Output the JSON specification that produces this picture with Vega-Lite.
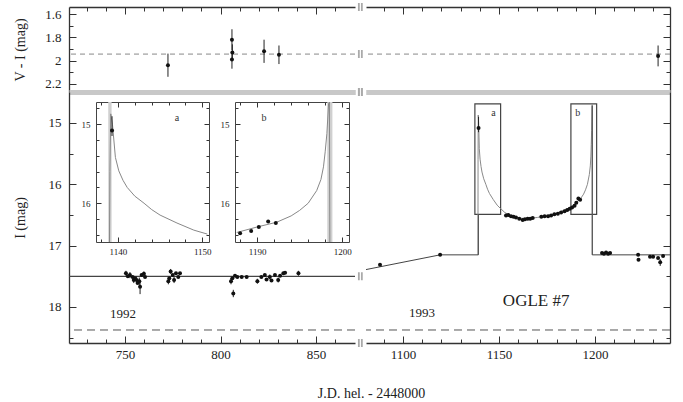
{
  "$schema": "https://vega.github.io/schema/vega-lite/v6.json",
  "padding": {"left": 13, "top": 3, "right": 5, "bottom": 0},
  "bounds": "flush",
  "align": "each",
  "columns": 2,
  "spacing": {"row": 0, "column": 11},
  "title": {"text": "J.D. hel. - 2448000", "orient": "bottom", "anchor": "middle", "frame": "bounds", "dx": 29, "offset": 23, "fontSize": 14, "fontWeight": "normal", "font": "Liberation Serif, Times New Roman, DejaVu Serif, serif", "color": "#222"},
  "resolve": {"scale": {"x": "independent", "y": "independent"}},
  "datasets": {
    "refs": [{"row": "T", "v": 1.944}, {"row": "B", "v": 18.375}, {"row": "B92", "v": 17.5}],
    "breaks": [
      {"row": "T", "t": 873.2, "v": 1.538}, {"row": "T", "t": 873.2, "v": 1.944}, {"row": "T", "t": 873.2, "v": 2.271},
      {"row": "B", "t": 873.2, "v": 14.495}, {"row": "B", "t": 873.2, "v": 17.5}, {"row": "B", "t": 873.2, "v": 18.587}
    ],
    "vi92": [
      {"t": 772.5, "v": 2.04, "lo": 1.94, "hi": 2.14},
      {"t": 806.0, "v": 1.82, "lo": 1.73, "hi": 1.91},
      {"t": 806.2, "v": 1.93, "lo": 1.86, "hi": 2.0},
      {"t": 806.0, "v": 1.99, "lo": 1.92, "hi": 2.07},
      {"t": 822.8, "v": 1.92, "lo": 1.82, "hi": 2.02},
      {"t": 830.6, "v": 1.95, "lo": 1.87, "hi": 2.03}
    ],
    "vi93": [{"t": 1232.8, "v": 1.96, "lo": 1.87, "hi": 2.05}],
    "i92": [
      {"t": 750.5, "I": 17.45, "lo": 17.41, "hi": 17.49},
      {"t": 751.5, "I": 17.50},
      {"t": 752.6, "I": 17.48, "lo": 17.43, "hi": 17.53},
      {"t": 754.0, "I": 17.51},
      {"t": 754.6, "I": 17.56, "lo": 17.51, "hi": 17.61},
      {"t": 755.2, "I": 17.53},
      {"t": 756.1, "I": 17.56, "lo": 17.5, "hi": 17.62},
      {"t": 756.6, "I": 17.61},
      {"t": 757.5, "I": 17.58, "lo": 17.52, "hi": 17.64},
      {"t": 757.9, "I": 17.67, "lo": 17.57, "hi": 17.79},
      {"t": 758.7, "I": 17.48},
      {"t": 759.9, "I": 17.46, "lo": 17.42, "hi": 17.5},
      {"t": 760.5, "I": 17.51},
      {"t": 772.7, "I": 17.58, "lo": 17.53, "hi": 17.63},
      {"t": 773.2, "I": 17.53},
      {"t": 773.9, "I": 17.42, "lo": 17.38, "hi": 17.46},
      {"t": 775.0, "I": 17.48},
      {"t": 775.7, "I": 17.56, "lo": 17.51, "hi": 17.61},
      {"t": 776.7, "I": 17.45},
      {"t": 777.9, "I": 17.51},
      {"t": 778.8, "I": 17.45},
      {"t": 805.5, "I": 17.58, "lo": 17.53, "hi": 17.63},
      {"t": 806.2, "I": 17.53},
      {"t": 806.7, "I": 17.78, "lo": 17.72, "hi": 17.84},
      {"t": 807.6, "I": 17.49},
      {"t": 808.8, "I": 17.51},
      {"t": 811.1, "I": 17.51},
      {"t": 813.7, "I": 17.51},
      {"t": 819.3, "I": 17.58, "lo": 17.54, "hi": 17.62},
      {"t": 821.4, "I": 17.51},
      {"t": 823.2, "I": 17.48},
      {"t": 824.1, "I": 17.55},
      {"t": 825.8, "I": 17.51, "lo": 17.47, "hi": 17.55},
      {"t": 826.7, "I": 17.57},
      {"t": 828.5, "I": 17.48},
      {"t": 830.2, "I": 17.56, "lo": 17.52, "hi": 17.6},
      {"t": 831.2, "I": 17.49},
      {"t": 832.9, "I": 17.45},
      {"t": 833.8, "I": 17.44},
      {"t": 840.8, "I": 17.45, "lo": 17.41, "hi": 17.49}
    ],
    "i93": [
      {"t": 1088.0, "I": 17.31},
      {"t": 1119.3, "I": 17.15},
      {"t": 1139.3, "I": 15.08, "lo": 14.9, "hi": 15.15},
      {"t": 1153.6, "I": 16.51},
      {"t": 1154.8, "I": 16.50},
      {"t": 1156.2, "I": 16.52},
      {"t": 1157.5, "I": 16.53},
      {"t": 1158.8, "I": 16.54},
      {"t": 1160.5, "I": 16.56},
      {"t": 1162.3, "I": 16.58},
      {"t": 1163.5, "I": 16.57},
      {"t": 1164.9, "I": 16.56},
      {"t": 1166.2, "I": 16.56},
      {"t": 1167.5, "I": 16.55},
      {"t": 1172.0, "I": 16.53},
      {"t": 1173.7, "I": 16.52},
      {"t": 1175.5, "I": 16.52},
      {"t": 1177.1, "I": 16.51},
      {"t": 1178.8, "I": 16.49},
      {"t": 1180.6, "I": 16.48},
      {"t": 1182.3, "I": 16.46},
      {"t": 1184.1, "I": 16.44},
      {"t": 1185.5, "I": 16.42},
      {"t": 1186.8, "I": 16.40},
      {"t": 1188.0, "I": 16.38},
      {"t": 1189.3, "I": 16.35},
      {"t": 1190.2, "I": 16.30},
      {"t": 1191.3, "I": 16.23},
      {"t": 1192.2, "I": 16.25},
      {"t": 1203.6, "I": 17.12},
      {"t": 1204.6, "I": 17.13},
      {"t": 1205.7, "I": 17.11},
      {"t": 1206.8, "I": 17.13},
      {"t": 1207.8, "I": 17.12},
      {"t": 1222.4, "I": 17.15},
      {"t": 1222.6, "I": 17.23},
      {"t": 1228.6, "I": 17.18},
      {"t": 1230.2, "I": 17.18},
      {"t": 1232.8, "I": 17.20},
      {"t": 1233.9, "I": 17.27, "lo": 17.22, "hi": 17.33},
      {"t": 1235.4, "I": 17.17}
    ],
    "model": [
      {"k": 1, "t": 1139.00, "I": 17.15}, {"k": 2, "t": 1139.05, "I": 15.60}, {"k": 3, "t": 1139.15, "I": 14.87},
      {"k": 4, "t": 1139.35, "I": 15.00}, {"k": 5, "t": 1139.70, "I": 15.42}, {"k": 6, "t": 1140.10, "I": 15.59},
      {"k": 7, "t": 1140.60, "I": 15.71}, {"k": 8, "t": 1141.10, "I": 15.80}, {"k": 9, "t": 1142.00, "I": 15.91},
      {"k": 10, "t": 1143.10, "I": 16.00}, {"k": 11, "t": 1144.00, "I": 16.08}, {"k": 12, "t": 1145.00, "I": 16.15},
      {"k": 13, "t": 1147.00, "I": 16.25}, {"k": 14, "t": 1149.00, "I": 16.34}, {"k": 15, "t": 1150.60, "I": 16.39},
      {"k": 16, "t": 1153.00, "I": 16.46}, {"k": 17, "t": 1156.00, "I": 16.51}, {"k": 18, "t": 1160.00, "I": 16.55},
      {"k": 19, "t": 1165.00, "I": 16.56}, {"k": 20, "t": 1170.00, "I": 16.54}, {"k": 21, "t": 1175.00, "I": 16.51},
      {"k": 22, "t": 1180.00, "I": 16.47}, {"k": 23, "t": 1184.00, "I": 16.42}, {"k": 24, "t": 1187.60, "I": 16.37},
      {"k": 25, "t": 1190.00, "I": 16.30}, {"k": 26, "t": 1192.30, "I": 16.24}, {"k": 27, "t": 1194.00, "I": 16.16},
      {"k": 28, "t": 1195.00, "I": 16.09}, {"k": 29, "t": 1196.00, "I": 16.00}, {"k": 30, "t": 1197.00, "I": 15.84},
      {"k": 31, "t": 1197.50, "I": 15.70}, {"k": 32, "t": 1197.80, "I": 15.54}, {"k": 33, "t": 1198.00, "I": 15.35},
      {"k": 34, "t": 1198.20, "I": 15.12}, {"k": 35, "t": 1198.40, "I": 14.74}, {"k": 36, "t": 1198.50, "I": 14.70},
      {"k": 37, "t": 1198.55, "I": 17.15}
    ],
    "base": [
      {"seg": "pre", "k": 1, "t": 1080.7, "I": 17.39}, {"seg": "pre", "k": 2, "t": 1119.3, "I": 17.15},
      {"seg": "pre", "k": 3, "t": 1139.2, "I": 17.15}, {"seg": "pre", "k": 4, "t": 1139.2, "I": 16.49},
      {"seg": "post", "k": 5, "t": 1198.5, "I": 14.72}, {"seg": "post", "k": 6, "t": 1198.5, "I": 17.15},
      {"seg": "post", "k": 7, "t": 1239.0, "I": 17.15}
    ],
    "boxes": [
      {"b": "a", "t1": 1137.4, "t2": 1150.8, "I1": 14.69, "I2": 16.49},
      {"b": "b", "t1": 1187.4, "t2": 1200.8, "I1": 14.69, "I2": 16.49}
    ],
    "bands": [
      {"p": "A", "t1": 1138.85, "t2": 1139.25, "I1": 14.72, "I2": 16.49},
      {"p": "B", "t1": 1198.25, "t2": 1198.85, "I1": 14.72, "I2": 16.49}
    ],
    "labels": [
      {"p": "IL", "k": "year", "t": 749.0, "I": 18.11, "text": "1992"},
      {"p": "IR", "k": "year", "t": 1109.9, "I": 18.1, "text": "1993"},
      {"p": "IR", "k": "name", "t": 1169.3, "I": 17.9, "text": "OGLE #7"},
      {"p": "IR", "k": "box", "t": 1147.1, "I": 14.84, "text": "a"},
      {"p": "IR", "k": "box", "t": 1190.9, "I": 14.84, "text": "b"},
      {"p": "A", "k": "box", "t": 1147.0, "I": 14.92, "text": "a"},
      {"p": "B", "k": "box", "t": 1190.8, "I": 14.92, "text": "b"}
    ]
  },
  "concat": [
    {
      "width": 286, "height": 85,
      "layer": [
        {
          "data": {"name": "refs"}, "transform": [{"filter": "datum.row === 'T'"}],
          "mark": {"type": "rule", "color": "#888", "strokeDash": [5, 4], "strokeWidth": 1},
          "encoding": {
            "y": {"field": "v", "type": "quantitative", "scale": {"domain": [1.538, 2.271], "reverse": true, "nice": false, "zero": false},
              "axis": {"orient": "left", "values": [1.6, 1.7, 1.8, 1.9, 2.0, 2.1, 2.2],
                "tickSize": {"condition": {"test": "round(datum.value*10) % 2 === 0", "value": -7}, "value": -4},
                "labelExpr": "round(datum.value*10) % 2 === 0 ? format(datum.value, '.1~f') : ''",
                "labelPadding": 15, "domainWidth": 1.3,
                "title": "V - I (mag)", "titleX": -49, "titleY": 42.5, "titleAngle": 270, "titleBaseline": "middle", "titleAlign": "center"}}
          }
        },
        {
          "data": {"name": "vi92"},
          "mark": {"type": "rule", "color": "#222", "strokeWidth": 1},
          "encoding": {
            "x": {"field": "t", "type": "quantitative", "scale": {"domain": [720.7, 870.4], "nice": false, "zero": false},
              "axis": {"orient": "top", "values": [730, 740, 750, 760, 770, 780, 790, 800, 810, 820, 830, 840, 850, 860], "labels": false,
                "tickSize": {"condition": {"test": "datum.value % 50 === 0", "value": -7}, "value": -4}, "domainWidth": 1.3, "title": null}},
            "y": {"field": "lo", "type": "quantitative", "axis": null},
            "y2": {"field": "hi"}
          }
        },
        {
          "data": {"name": "vi92"},
          "mark": {"type": "point", "filled": true, "color": "#111", "size": 16, "opacity": 1},
          "encoding": {
            "x": {"field": "t", "type": "quantitative", "axis": {"orient": "bottom", "ticks": false, "labels": false, "domainColor": "#c8c8c8", "domainWidth": 5, "title": null}},
            "y": {"field": "v", "type": "quantitative", "axis": null}
          }
        },
        {
          "data": {"name": "breaks"}, "transform": [{"filter": "datum.row === 'T'"}],
          "mark": {"type": "point", "shape": "M-0.6,-1H-0.15V1H-0.6Z M0.15,-1H0.6V1H0.15Z", "filled": true, "color": "#aaa", "size": 64, "opacity": 1},
          "encoding": {
            "x": {"field": "t", "type": "quantitative", "axis": null},
            "y": {"field": "v", "type": "quantitative", "axis": null}
          }
        }
      ],
      "resolve": {"axis": {"x": "independent", "y": "independent"}}
    },
    {
      "width": 304, "height": 85,
      "layer": [
        {
          "data": {"name": "refs"}, "transform": [{"filter": "datum.row === 'T'"}],
          "mark": {"type": "rule", "color": "#888", "strokeDash": [5, 4], "strokeWidth": 1},
          "encoding": {
            "y": {"field": "v", "type": "quantitative", "scale": {"domain": [1.538, 2.271], "reverse": true, "nice": false, "zero": false},
              "axis": {"orient": "right", "values": [1.6, 1.7, 1.8, 1.9, 2.0, 2.1, 2.2], "labels": false,
                "tickSize": {"condition": {"test": "round(datum.value*10) % 2 === 0", "value": -7}, "value": -4},
                "domainWidth": 1.3, "title": null}}
          }
        },
        {
          "data": {"name": "vi93"},
          "mark": {"type": "rule", "color": "#222", "strokeWidth": 1},
          "encoding": {
            "x": {"field": "t", "type": "quantitative", "scale": {"domain": [1080.7, 1239], "nice": false, "zero": false},
              "axis": {"orient": "top", "values": [1090, 1100, 1110, 1120, 1130, 1140, 1150, 1160, 1170, 1180, 1190, 1200, 1210, 1220, 1230], "labels": false,
                "tickSize": {"condition": {"test": "datum.value % 50 === 0", "value": -7}, "value": -4}, "domainWidth": 1.3, "title": null}},
            "y": {"field": "lo", "type": "quantitative", "axis": null},
            "y2": {"field": "hi"}
          }
        },
        {
          "data": {"name": "vi93"},
          "mark": {"type": "point", "filled": true, "color": "#111", "size": 16, "opacity": 1},
          "encoding": {
            "x": {"field": "t", "type": "quantitative", "axis": {"orient": "bottom", "ticks": false, "labels": false, "domainColor": "#c8c8c8", "domainWidth": 5, "title": null}},
            "y": {"field": "v", "type": "quantitative", "axis": null}
          }
        }
      ],
      "resolve": {"axis": {"x": "independent", "y": "independent"}}
    },
    {
      "width": 286, "height": 251,
      "layer": [
        {
          "layer": [
            {
              "data": {"name": "refs"}, "transform": [{"filter": "datum.row === 'B'"}],
              "mark": {"type": "rule", "color": "#555", "strokeDash": [8, 5], "strokeWidth": 1},
              "encoding": {
                "y": {"field": "v", "type": "quantitative", "scale": {"domain": [14.495, 18.587], "reverse": true, "nice": false, "zero": false},
                  "axis": {"orient": "left", "values": [15, 15.5, 16, 16.5, 17, 17.5, 18, 18.5],
                    "tickSize": {"condition": {"test": "datum.value % 1 === 0", "value": -7}, "value": -4},
                    "labelExpr": "datum.value % 1 === 0 ? format(datum.value, 'd') : ''",
                    "labelPadding": 15, "domainWidth": 1.3,
                    "title": "I (mag)", "titleX": -49, "titleY": 125.5, "titleAngle": 270, "titleBaseline": "middle", "titleAlign": "center"}}
              }
            },
            {
              "data": {"name": "refs"}, "transform": [{"filter": "datum.row === 'B92'"}],
              "mark": {"type": "rule", "color": "#444", "strokeWidth": 1.2},
              "encoding": {"y": {"field": "v", "type": "quantitative", "axis": null}}
            },
            {
              "data": {"name": "i92"}, "transform": [{"filter": "datum.lo != null"}],
              "mark": {"type": "rule", "color": "#222", "strokeWidth": 1},
              "encoding": {
                "x": {"field": "t", "type": "quantitative", "scale": {"domain": [720.7, 870.4], "nice": false, "zero": false},
                  "axis": {"orient": "bottom", "values": [730, 740, 750, 760, 770, 780, 790, 800, 810, 820, 830, 840, 850, 860],
                    "tickSize": {"condition": {"test": "datum.value % 50 === 0", "value": -7}, "value": -4},
                    "labelExpr": "datum.value % 50 === 0 ? format(datum.value, 'd') : ''",
                    "labelPadding": 12, "domainWidth": 1.3, "title": null}},
                "y": {"field": "lo", "type": "quantitative", "axis": null},
                "y2": {"field": "hi"}
              }
            },
            {
              "data": {"name": "i92"},
              "mark": {"type": "point", "filled": true, "color": "#111", "size": 16, "opacity": 1},
              "encoding": {
                "x": {"field": "t", "type": "quantitative", "axis": {"orient": "top", "ticks": false, "labels": false, "domainColor": "#c8c8c8", "domainWidth": 5, "title": null}},
                "y": {"field": "I", "type": "quantitative", "axis": null}
              }
            },
            {
              "data": {"name": "breaks"}, "transform": [{"filter": "datum.row === 'B'"}],
              "mark": {"type": "point", "shape": "M-0.6,-1H-0.15V1H-0.6Z M0.15,-1H0.6V1H0.15Z", "filled": true, "color": "#aaa", "size": 64, "opacity": 1},
              "encoding": {
                "x": {"field": "t", "type": "quantitative", "axis": null},
                "y": {"field": "v", "type": "quantitative", "axis": null}
              }
            },
            {
              "data": {"name": "labels"}, "transform": [{"filter": "datum.p === 'IL'"}],
              "mark": {"type": "text", "fontSize": 13, "color": "#222", "align": "center", "baseline": "middle"},
              "encoding": {
                "x": {"field": "t", "type": "quantitative", "axis": null},
                "y": {"field": "I", "type": "quantitative", "axis": null},
                "text": {"field": "text"}
              }
            }
          ],
          "resolve": {"axis": {"x": "independent", "y": "independent"}}
        },
        {
          "layer": [
            {
              "data": {"name": "bands"}, "transform": [{"filter": "datum.p === 'A'"}],
              "mark": {"type": "rect", "color": "#d0d0d0"},
              "encoding": {
                "x": {"field": "t1", "type": "quantitative", "scale": {"domain": [1137.4, 1150.8], "range": [27, 140], "nice": false, "zero": false},
                  "axis": {"orient": "bottom", "offset": -101, "values": [1138, 1140, 1142, 1144, 1146, 1148, 1150],
                    "tickSize": {"condition": {"test": "datum.value % 10 === 0", "value": -5}, "value": -3},
                    "labelExpr": "datum.value % 10 === 0 ? format(datum.value, 'd') : ''",
                    "labelFontSize": 9, "labelPadding": 10, "domainColor": "#444", "title": null}},
                "x2": {"field": "t2"},
                "y": {"field": "I1", "type": "quantitative", "scale": {"domain": [14.72, 16.49], "range": [10, 150], "nice": false, "zero": false, "clamp": true},
                  "axis": {"orient": "left", "offset": -27, "values": [14.8, 15, 15.2, 15.4, 15.6, 15.8, 16, 16.2, 16.4],
                    "tickSize": {"condition": {"test": "abs(datum.value - round(datum.value)) < 0.01", "value": -5}, "value": -3},
                    "labelExpr": "abs(datum.value - round(datum.value)) < 0.01 ? format(datum.value, 'd') : ''",
                    "labelFontSize": 9, "labelPadding": 11, "domainColor": "#444", "title": null}},
                "y2": {"field": "I2"}
              }
            },
            {
              "data": {"name": "model"}, "transform": [{"filter": "datum.t >= 1137.4 && datum.t <= 1150.8"}],
              "mark": {"type": "line", "color": "#888", "strokeWidth": 1},
              "encoding": {
                "x": {"field": "t", "type": "quantitative",
                  "axis": {"orient": "top", "offset": -10, "values": [1138, 1140, 1142, 1144, 1146, 1148, 1150], "labels": false,
                    "tickSize": {"condition": {"test": "datum.value % 10 === 0", "value": -5}, "value": -3}, "domainColor": "#444", "title": null}},
                "y": {"field": "I", "type": "quantitative",
                  "axis": {"orient": "right", "offset": -146, "values": [14.8, 15, 15.2, 15.4, 15.6, 15.8, 16, 16.2, 16.4], "labels": false,
                    "tickSize": {"condition": {"test": "abs(datum.value - round(datum.value)) < 0.01", "value": -5}, "value": -3}, "domainColor": "#444", "title": null}},
                "order": {"field": "k", "type": "quantitative"}
              }
            },
            {
              "data": {"name": "i93"}, "transform": [{"filter": "datum.t >= 1137.4 && datum.t <= 1150.8 && datum.lo != null"}],
              "mark": {"type": "rule", "color": "#222", "strokeWidth": 1},
              "encoding": {
                "x": {"field": "t", "type": "quantitative", "axis": null},
                "y": {"field": "lo", "type": "quantitative", "axis": null},
                "y2": {"field": "hi"}
              }
            },
            {
              "data": {"name": "i93"}, "transform": [{"filter": "datum.t >= 1137.4 && datum.t <= 1150.8"}],
              "mark": {"type": "point", "filled": true, "color": "#111", "size": 16, "opacity": 1},
              "encoding": {
                "x": {"field": "t", "type": "quantitative", "axis": null},
                "y": {"field": "I", "type": "quantitative", "axis": null}
              }
            },
            {
              "data": {"name": "labels"}, "transform": [{"filter": "datum.p === 'A'"}],
              "mark": {"type": "text", "fontSize": 10, "color": "#333", "align": "center", "baseline": "middle"},
              "encoding": {
                "x": {"field": "t", "type": "quantitative", "axis": null},
                "y": {"field": "I", "type": "quantitative", "axis": null},
                "text": {"field": "text"}
              }
            }
          ],
          "resolve": {"axis": {"x": "independent", "y": "independent"}}
        },
        {
          "layer": [
            {
              "data": {"name": "bands"}, "transform": [{"filter": "datum.p === 'B'"}],
              "mark": {"type": "rect", "color": "#d0d0d0"},
              "encoding": {
                "x": {"field": "t1", "type": "quantitative", "scale": {"domain": [1187.4, 1200.8], "range": [166, 280], "nice": false, "zero": false},
                  "axis": {"orient": "bottom", "offset": -101, "values": [1188, 1190, 1192, 1194, 1196, 1198, 1200],
                    "tickSize": {"condition": {"test": "datum.value % 10 === 0", "value": -5}, "value": -3},
                    "labelExpr": "datum.value % 10 === 0 ? format(datum.value, 'd') : ''",
                    "labelFontSize": 9, "labelPadding": 10, "domainColor": "#444", "title": null}},
                "x2": {"field": "t2"},
                "y": {"field": "I1", "type": "quantitative", "scale": {"domain": [14.72, 16.49], "range": [10, 150], "nice": false, "zero": false, "clamp": true},
                  "axis": {"orient": "left", "offset": -166, "values": [14.8, 15, 15.2, 15.4, 15.6, 15.8, 16, 16.2, 16.4],
                    "tickSize": {"condition": {"test": "abs(datum.value - round(datum.value)) < 0.01", "value": -5}, "value": -3},
                    "labelExpr": "abs(datum.value - round(datum.value)) < 0.01 ? format(datum.value, 'd') : ''",
                    "labelFontSize": 9, "labelPadding": 11, "domainColor": "#444", "title": null}},
                "y2": {"field": "I2"}
              }
            },
            {
              "data": {"name": "model"}, "transform": [{"filter": "datum.t >= 1187.4 && datum.t <= 1200.8"}],
              "mark": {"type": "line", "color": "#888", "strokeWidth": 1},
              "encoding": {
                "x": {"field": "t", "type": "quantitative",
                  "axis": {"orient": "top", "offset": -10, "values": [1188, 1190, 1192, 1194, 1196, 1198, 1200], "labels": false,
                    "tickSize": {"condition": {"test": "datum.value % 10 === 0", "value": -5}, "value": -3}, "domainColor": "#444", "title": null}},
                "y": {"field": "I", "type": "quantitative",
                  "axis": {"orient": "right", "offset": -6, "values": [14.8, 15, 15.2, 15.4, 15.6, 15.8, 16, 16.2, 16.4], "labels": false,
                    "tickSize": {"condition": {"test": "abs(datum.value - round(datum.value)) < 0.01", "value": -5}, "value": -3}, "domainColor": "#444", "title": null}},
                "order": {"field": "k", "type": "quantitative"}
              }
            },
            {
              "data": {"name": "i93"}, "transform": [{"filter": "datum.t >= 1187.4 && datum.t <= 1200.8"}],
              "mark": {"type": "point", "filled": true, "color": "#111", "size": 16, "opacity": 1},
              "encoding": {
                "x": {"field": "t", "type": "quantitative", "axis": null},
                "y": {"field": "I", "type": "quantitative", "axis": null}
              }
            },
            {
              "data": {"name": "labels"}, "transform": [{"filter": "datum.p === 'B'"}],
              "mark": {"type": "text", "fontSize": 10, "color": "#333", "align": "center", "baseline": "middle"},
              "encoding": {
                "x": {"field": "t", "type": "quantitative", "axis": null},
                "y": {"field": "I", "type": "quantitative", "axis": null},
                "text": {"field": "text"}
              }
            }
          ],
          "resolve": {"axis": {"x": "independent", "y": "independent"}}
        }
      ],
      "resolve": {"scale": {"x": "independent", "y": "independent"}, "axis": {"x": "independent", "y": "independent"}}
    },
    {
      "width": 304, "height": 251,
      "layer": [
        {
          "data": {"name": "refs"}, "transform": [{"filter": "datum.row === 'B'"}],
          "mark": {"type": "rule", "color": "#555", "strokeDash": [8, 5], "strokeWidth": 1},
          "encoding": {
            "y": {"field": "v", "type": "quantitative", "scale": {"domain": [14.495, 18.587], "reverse": true, "nice": false, "zero": false},
              "axis": {"orient": "right", "values": [15, 15.5, 16, 16.5, 17, 17.5, 18, 18.5], "labels": false,
                "tickSize": {"condition": {"test": "datum.value % 1 === 0", "value": -7}, "value": -4},
                "domainWidth": 1.3, "title": null}}
          }
        },
        {
          "data": {"name": "boxes"},
          "mark": {"type": "rect", "fill": "transparent", "stroke": "#444", "strokeWidth": 1.2},
          "encoding": {
            "x": {"field": "t1", "type": "quantitative", "scale": {"domain": [1080.7, 1239], "nice": false, "zero": false},
              "axis": {"orient": "bottom", "values": [1090, 1100, 1110, 1120, 1130, 1140, 1150, 1160, 1170, 1180, 1190, 1200, 1210, 1220, 1230],
                "tickSize": {"condition": {"test": "datum.value % 50 === 0", "value": -7}, "value": -4},
                "labelExpr": "datum.value % 50 === 0 ? format(datum.value, 'd') : ''",
                "labelPadding": 12, "domainWidth": 1.3, "title": null}},
            "x2": {"field": "t2"},
            "y": {"field": "I1", "type": "quantitative", "axis": null},
            "y2": {"field": "I2"}
          }
        },
        {
          "data": {"name": "model"},
          "mark": {"type": "line", "color": "#8a8a8a", "strokeWidth": 1},
          "encoding": {
            "x": {"field": "t", "type": "quantitative", "axis": {"orient": "top", "ticks": false, "labels": false, "domainColor": "#c8c8c8", "domainWidth": 5, "title": null}},
            "y": {"field": "I", "type": "quantitative", "axis": null},
            "order": {"field": "k", "type": "quantitative"}
          }
        },
        {
          "data": {"name": "base"},
          "mark": {"type": "line", "color": "#444", "strokeWidth": 1},
          "encoding": {
            "x": {"field": "t", "type": "quantitative", "axis": null},
            "y": {"field": "I", "type": "quantitative", "axis": null},
            "detail": {"field": "seg"},
            "order": {"field": "k", "type": "quantitative"}
          }
        },
        {
          "data": {"name": "i93"}, "transform": [{"filter": "datum.lo != null"}],
          "mark": {"type": "rule", "color": "#222", "strokeWidth": 1},
          "encoding": {
            "x": {"field": "t", "type": "quantitative", "axis": null},
            "y": {"field": "lo", "type": "quantitative", "axis": null},
            "y2": {"field": "hi"}
          }
        },
        {
          "data": {"name": "i93"},
          "mark": {"type": "point", "filled": true, "color": "#111", "size": 16, "opacity": 1},
          "encoding": {
            "x": {"field": "t", "type": "quantitative", "axis": null},
            "y": {"field": "I", "type": "quantitative", "axis": null}
          }
        },
        {
          "data": {"name": "labels"}, "transform": [{"filter": "datum.p === 'IR' && datum.k === 'year'"}],
          "mark": {"type": "text", "fontSize": 13, "color": "#222", "align": "center", "baseline": "middle"},
          "encoding": {
            "x": {"field": "t", "type": "quantitative", "axis": null},
            "y": {"field": "I", "type": "quantitative", "axis": null},
            "text": {"field": "text"}
          }
        },
        {
          "data": {"name": "labels"}, "transform": [{"filter": "datum.p === 'IR' && datum.k === 'name'"}],
          "mark": {"type": "text", "fontSize": 17, "color": "#222", "align": "center", "baseline": "middle"},
          "encoding": {
            "x": {"field": "t", "type": "quantitative", "axis": null},
            "y": {"field": "I", "type": "quantitative", "axis": null},
            "text": {"field": "text"}
          }
        },
        {
          "data": {"name": "labels"}, "transform": [{"filter": "datum.p === 'IR' && datum.k === 'box'"}],
          "mark": {"type": "text", "fontSize": 10, "color": "#333", "align": "center", "baseline": "middle"},
          "encoding": {
            "x": {"field": "t", "type": "quantitative", "axis": null},
            "y": {"field": "I", "type": "quantitative", "axis": null},
            "text": {"field": "text"}
          }
        }
      ],
      "resolve": {"axis": {"x": "independent", "y": "independent"}}
    }
  ],
  "config": {
    "font": "Liberation Serif, Times New Roman, DejaVu Serif, serif",
    "text": {"font": "Liberation Serif, Times New Roman, DejaVu Serif, serif"},
    "view": {"stroke": null},
    "axis": {"labelFont": "Liberation Serif, Times New Roman, DejaVu Serif, serif", "labelFontSize": 13, "labelColor": "#222", "titleFont": "Liberation Serif, Times New Roman, DejaVu Serif, serif", "titleFontSize": 14, "titleFontWeight": "normal", "titleColor": "#222", "domainColor": "#333", "tickColor": "#333", "grid": false, "labelFlush": false, "labelOverlap": false}
  }
}
